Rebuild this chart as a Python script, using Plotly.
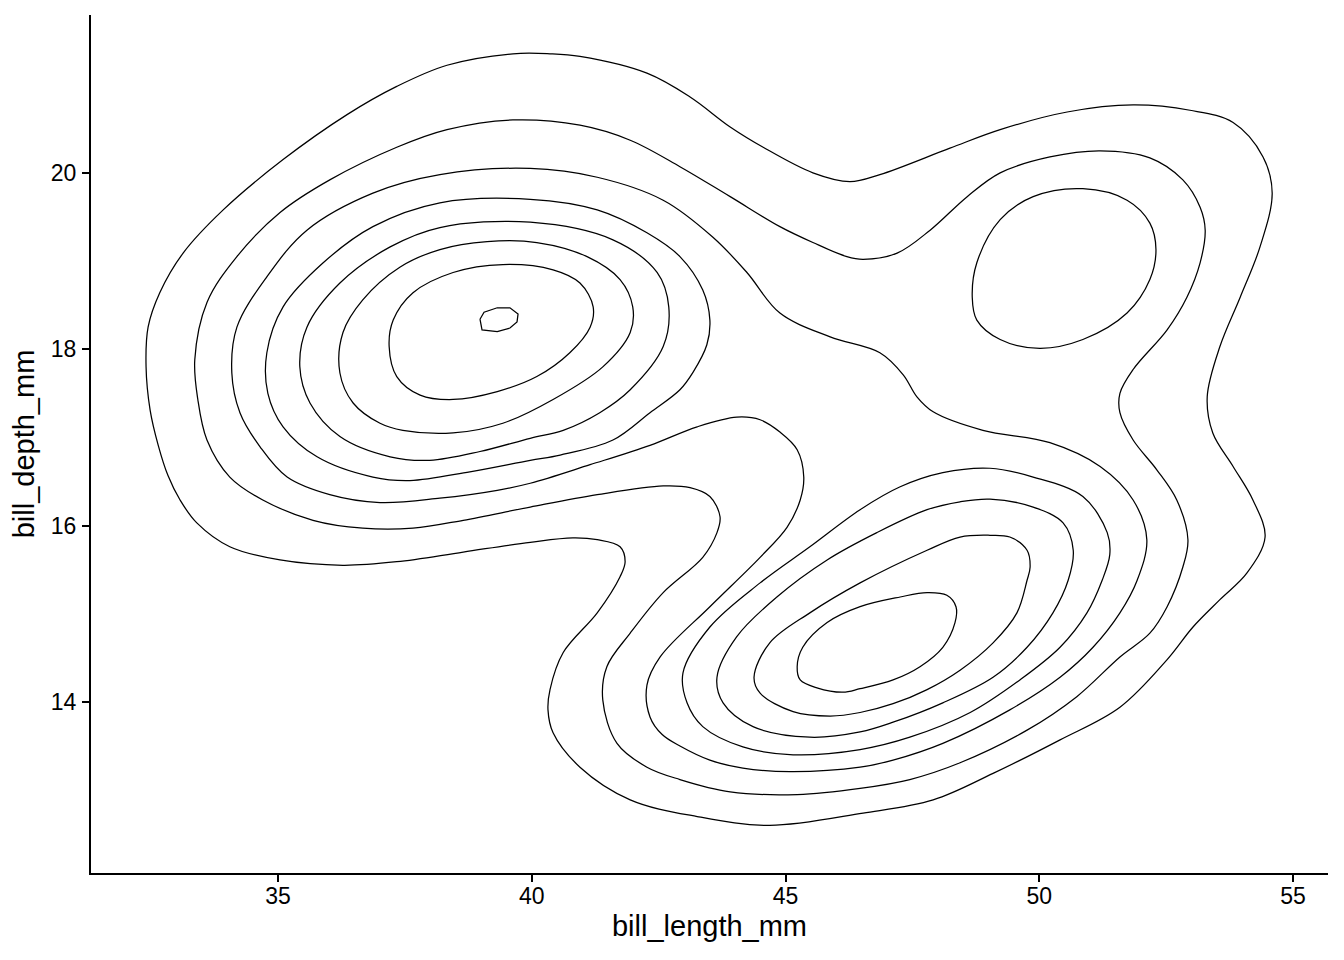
import plotly.graph_objects as go

# Contour paths of the 2D density of bill_length_mm vs bill_depth_mm,
# read off the reference picture (data units).  Each list is one closed contour.
level1 = [(32.40,17.80),(32.44,18.25),(32.67,18.64),(33.13,19.09),(33.92,19.58),(35.10,20.15),(36.36,20.66),
          (37.34,20.98),(38.33,21.22),(39.63,21.35),(40.36,21.35),(40.95,21.32),(42.27,21.13),(43.12,20.86),
          (43.91,20.52),(44.56,20.29),(45.54,20.00),(46.27,19.90),(46.86,19.98),(48.24,20.28),(49.23,20.49),
          (50.55,20.69),(51.85,20.77),(52.97,20.71),(53.82,20.57),(54.41,20.18),(54.59,19.77),(54.35,19.16),
          (53.96,18.59),(53.56,18.03),(53.31,17.46),(53.42,17.05),(53.82,16.67),(54.21,16.29),(54.45,15.87),
          (54.09,15.46),(53.56,15.16),(53.03,14.85),(52.52,14.48),(51.59,13.94),(50.41,13.57),(49.09,13.19),
          (47.91,12.89),(46.53,12.74),(44.69,12.60),(43.26,12.70),(41.94,12.89),(40.95,13.26),(40.42,13.65),
          (40.32,13.91),(40.36,14.14),(40.62,14.56),(41.29,15.01),(41.74,15.42),(41.84,15.59),(41.74,15.76),
          (41.29,15.84),(40.81,15.86),(39.97,15.81),(38.65,15.70),(37.34,15.59),(36.28,15.55),(35.04,15.61),
          (34.05,15.76),(33.40,16.03),(33.07,16.29),(32.83,16.57),(32.64,16.91),(32.48,17.31)]

level2 = [(33.36,17.88),(33.60,18.53),(34.19,19.05),(35.04,19.55),(36.02,19.92),(37.34,20.29),(38.33,20.49),
          (39.63,20.60),(40.95,20.54),(41.94,20.37),(42.92,20.07),(43.91,19.73),(44.89,19.39),(45.54,19.21),
          (46.21,19.05),(46.53,19.02),(47.20,19.09),(47.85,19.35),(48.58,19.73),(49.23,20.00),(50.21,20.18),
          (51.20,20.25),(52.18,20.17),(52.83,19.92),(53.17,19.61),(53.27,19.35),(53.17,18.98),(52.91,18.59),
          (52.52,18.22),(51.85,17.77),(51.59,17.50),(51.59,17.28),(51.85,16.97),(52.32,16.63),(52.71,16.29),
          (52.93,15.84),(52.83,15.53),(52.52,15.08),(52.18,14.78),(51.59,14.51),(50.74,14.06),(49.76,13.68),
          (48.44,13.31),(47.45,13.12),(46.47,13.02),(45.23,12.95),(43.91,12.98),(42.92,13.12),(42.27,13.26),
          (41.68,13.53),(41.40,14.02),(41.48,14.40),(41.94,14.78),(42.59,15.24),(43.37,15.64),(43.65,15.92),
          (43.71,16.10),(43.51,16.33),(43.12,16.43),(42.59,16.45),(41.29,16.35),(39.97,16.21),(38.65,16.06),
          (37.66,15.97),(36.67,15.97),(35.69,16.06),(34.70,16.29),(34.05,16.55),(33.60,16.97),(33.42,17.43)]

level3 = [(34.09,17.73),(34.19,18.25),(34.78,18.82),(35.57,19.35),(36.87,19.77),(38.19,19.98),(39.97,20.05),
          (41.29,19.95),(42.59,19.69),(43.57,19.27),(44.24,18.87),(44.89,18.41),(45.88,18.14),(46.86,17.96),
          (47.32,17.71),(47.59,17.46),(47.91,17.29),(48.89,17.08),(50.21,16.94),(51.20,16.67),(51.85,16.29),
          (52.12,15.84),(51.93,15.38),(51.59,15.01),(51.06,14.62),(50.41,14.28),(49.42,13.91),(48.10,13.53),
          (47.12,13.34),(46.47,13.26),(45.09,13.21),(44.16,13.25),(43.51,13.34),(42.92,13.50),(42.57,13.63),
          (42.33,13.83),(42.27,14.19),(42.53,14.51),(43.51,15.08),(44.50,15.64),(45.03,15.98),(45.29,16.29),
          (45.36,16.55),(45.23,16.86),(44.89,17.06),(44.50,17.20),(44.04,17.23),(43.26,17.12),(42.33,16.91),
          (41.15,16.69),(39.97,16.48),(39.32,16.40),(38.19,16.31),(37.01,16.26),(36.02,16.35),(35.18,16.55),
          (34.65,16.89),(34.25,17.28)]

level3_right = [(48.68,18.59),(48.77,18.98),(49.23,19.47),(49.88,19.73),(50.86,19.82),(51.73,19.69),(52.18,19.43),
                (52.30,19.13),(52.18,18.79),(51.73,18.41),(50.86,18.11),(50.01,18.01),(49.23,18.11),(48.77,18.33)]

level4_left = [(34.78,17.96),(35.10,18.48),(35.89,18.98),(36.87,19.39),(38.19,19.66),(39.97,19.70),(41.29,19.58),
               (42.27,19.32),(42.92,19.05),(43.37,18.67),(43.51,18.33),(43.45,18.05),(43.18,17.74),(42.92,17.54),
               (42.33,17.28),(41.60,16.97),(40.56,16.80),(39.97,16.74),(38.78,16.61),(37.60,16.51),(36.87,16.55),
               (35.77,16.78),(35.10,17.12),(34.80,17.50)]

level5_left = [(35.43,17.80),(35.57,18.25),(36.22,18.75),(37.21,19.16),(38.19,19.38),(39.97,19.44),(41.60,19.24),
               (42.47,18.87),(42.70,18.48),(42.59,18.03),(41.94,17.54),(41.34,17.28),(40.62,17.08),(39.97,16.99),
               (38.98,16.84),(37.99,16.74),(37.21,16.78),(36.22,17.01),(35.63,17.39)]

level6_left = [(36.22,17.73),(36.28,18.19),(36.67,18.56),(37.40,18.93),(38.19,19.13),(39.12,19.22),(40.10,19.21),
               (41.09,19.05),(41.74,18.79),(41.99,18.48),(41.94,18.19),(41.40,17.80),(40.42,17.43),(39.43,17.16),
               (38.45,17.05),(37.46,17.08),(37.01,17.16),(36.48,17.39)]

level7_left = [(37.19,18.03),(37.27,18.33),(37.66,18.64),(38.45,18.87),(39.43,18.96),(40.42,18.90),(40.95,18.75),
               (41.21,18.48),(41.15,18.25),(40.75,17.96),(40.10,17.69),(39.32,17.52),(38.45,17.43),(37.80,17.48),
               (37.34,17.69)]

level8_peak = [(38.98,18.34),(39.06,18.42),(39.32,18.47),(39.57,18.47),(39.73,18.40),(39.71,18.31),(39.57,18.24),
               (39.32,18.20),(39.02,18.22)]

level4_low = [(49.03,16.65),(49.88,16.55),(50.86,16.33),(51.34,15.92),(51.39,15.67),(51.24,15.38),(50.94,15.01),
              (50.41,14.62),(49.62,14.25),(48.64,13.88),(47.45,13.60),(46.47,13.46),(45.15,13.40),(44.16,13.49),
              (43.37,13.72),(43.06,13.99),(42.98,14.33),(43.51,14.85),(44.50,15.35),(45.48,15.76),(46.47,16.18),
              (47.26,16.44),(48.10,16.60)]

level5_low = [(49.03,16.30),(49.88,16.21),(50.47,16.03),(50.67,15.72),(50.57,15.38),(50.27,15.01),(49.76,14.62),
              (49.09,14.28),(48.10,13.99),(47.12,13.77),(46.47,13.66),(45.48,13.60),(44.36,13.72),(43.77,13.99),
              (43.65,14.28),(44.04,14.74),(44.83,15.19),(45.82,15.61),(46.80,15.92),(47.79,16.18),(48.44,16.27)]

level6_low = [(49.03,15.89),(49.42,15.87),(49.76,15.72),(49.82,15.53),(49.76,15.38),(49.56,15.01),(49.09,14.67),
              (48.44,14.36),(47.79,14.14),(47.12,13.98),(46.47,13.88),(45.88,13.84),(45.15,13.89),(44.50,14.10),
              (44.38,14.28),(44.69,14.67),(45.48,15.01),(46.47,15.35),(47.79,15.72),(48.44,15.87)]

level7_low = [(45.23,14.40),(45.29,14.25),(45.62,14.16),(46.13,14.11),(46.47,14.15),(47.12,14.25),(47.65,14.40),
              (48.10,14.62),(48.34,14.90),(48.36,15.08),(48.18,15.21),(47.79,15.24),(47.26,15.19),(46.47,15.08),
              (45.82,14.90),(45.34,14.62)]

x_ticks = [35, 40, 45, 50, 55]
y_ticks = [14, 16, 18, 20]
x_title = "bill_length_mm"
y_title = "bill_depth_mm"

smooth_paths = [level1, level2, level3, level3_right, level4_left, level5_left, level6_left,
                level7_left, level4_low, level5_low, level6_low, level7_low]
angular_paths = [level8_peak]

fig = go.Figure()


def add_path(pts, shape):
    closed = pts + [pts[0]]
    line = dict(color="black", width=1.25, shape=shape)
    if shape == "spline":
        line["smoothing"] = 1.0
    fig.add_trace(go.Scatter(
        x=[p[0] for p in closed], y=[p[1] for p in closed],
        mode="lines", line=line, hoverinfo="skip", showlegend=False))


for pts in smooth_paths:
    add_path(pts, "spline")
for pts in angular_paths:
    add_path(pts, "linear")

font_family = "Liberation Sans, Arial, Helvetica, sans-serif"
axis_common = dict(
    showgrid=False, zeroline=False, showline=True, linecolor="black", linewidth=2,
    ticks="outside", ticklen=7, tickwidth=2, tickcolor="black",
    tickfont=dict(family=font_family, size=23, color="black"),
    automargin=False,
)

# the page body adds an 8px margin, so the figure is sized to sit inside the window
fig.update_layout(
    width=1328, height=944,
    paper_bgcolor="white", plot_bgcolor="white",
    margin=dict(l=83, r=8, t=7, b=79),
    font=dict(family=font_family, color="black"),
    xaxis=dict(range=[31.315, 55.69], tickvals=x_ticks, ticktext=[str(v) for v in x_ticks],
               ticklabelstandoff=-6,
               title=dict(text=x_title, font=dict(size=29, color="black"), standoff=8), **axis_common),
    yaxis=dict(range=[12.06, 21.79], tickvals=y_ticks, ticktext=[str(v) for v in y_ticks],
               ticklabelstandoff=1,
               title=dict(text=y_title, font=dict(size=29, color="black"), standoff=8), **axis_common),
)

fig.write_html("out.html")
